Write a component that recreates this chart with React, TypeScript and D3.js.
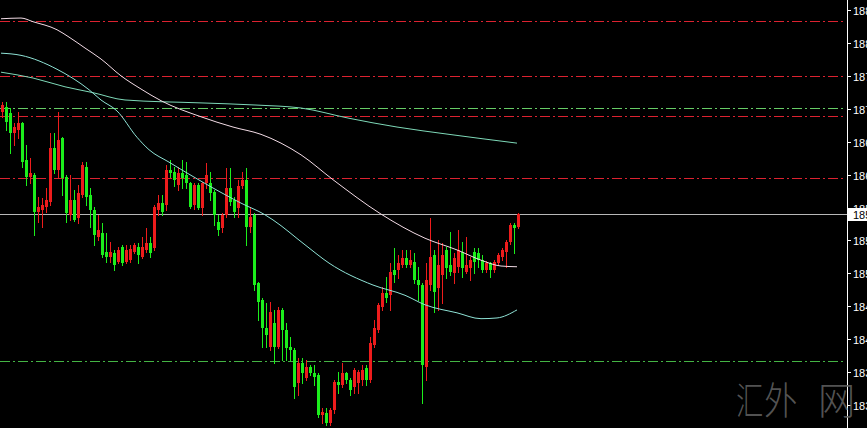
import React from "react";
import * as d3 from "d3";

const W = 867;
const H = 428;

// OHLC candles (oldest -> newest)
const opens = [187.26,187.32,187.24,186.97,187.01,187.11,186.60,186.37,186.39,185.89,185.92,185.96,186.03,186.76,186.46,186.90,186.37,185.85,186.05,185.81,186.12,186.50,186.12,185.92,185.55,185.60,185.34,185.27,185.33,185.21,185.41,185.21,185.23,185.34,185.41,185.27,185.37,185.47,185.40,185.92,186.01,185.98,186.46,186.44,186.26,186.42,186.39,186.29,185.98,186.26,185.94,186.29,186.29,186.16,185.75,185.67,185.85,186.22,186.05,185.94,186.24,186.33,185.68,185.85,184.92,184.69,184.30,184.04,184.37,184.04,184.55,184.28,184.04,184.00,183.55,183.83,183.62,183.77,183.69,183.66,183.11,183.14,183.00,183.18,183.56,183.52,183.69,183.59,183.50,183.55,183.59,183.76,183.59,184.07,184.28,184.59,184.78,184.75,185.10,185.10,185.16,185.26,185.16,185.21,184.96,184.89,183.77,184.89,185.30,184.85,185.03,185.37,185.16,185.05,185.14,185.34,185.07,185.12,185.34,185.33,185.23,185.10,185.19,185.10,185.19,185.27,185.34,185.48,185.71,185.68];
const highs = [187.39,187.39,187.31,187.11,187.26,187.12,186.81,186.63,186.42,186.09,186.08,186.22,186.97,186.97,187.26,186.92,186.39,186.39,186.19,186.26,186.57,186.57,186.22,185.96,185.85,185.74,185.60,185.48,185.37,185.41,185.44,185.44,185.44,185.47,185.47,185.55,185.67,185.55,185.98,186.12,186.12,186.53,186.60,186.50,186.50,186.60,186.57,186.30,186.29,186.29,186.30,186.56,186.44,186.19,185.85,185.88,186.49,186.49,186.09,186.33,186.44,186.49,185.96,185.88,184.93,184.71,184.64,184.66,184.55,184.59,184.58,184.37,184.18,184.03,183.89,183.89,183.87,183.80,183.80,183.69,183.21,183.21,183.21,183.59,183.70,183.83,183.70,183.62,183.76,183.73,183.80,183.80,184.18,184.41,184.64,184.86,185.00,185.19,185.40,185.30,185.37,185.37,185.37,185.33,185.14,184.92,185.19,185.81,185.37,185.51,185.47,185.41,185.62,185.33,185.64,185.48,185.55,185.27,185.40,185.40,185.30,185.22,185.21,185.23,185.33,185.40,185.51,185.74,185.74,185.88];
const lows = [187.19,187.01,186.70,186.81,186.90,186.50,186.26,186.29,185.57,185.75,185.68,185.89,185.98,186.42,186.37,186.12,185.75,185.78,185.76,185.74,186.10,185.98,185.68,185.44,185.51,185.27,185.21,185.21,185.10,185.19,185.16,185.19,185.21,185.33,185.19,185.26,185.34,185.27,185.37,185.85,185.85,185.92,186.37,186.24,186.19,186.22,186.22,185.94,185.93,185.93,185.85,186.22,186.05,185.71,185.57,185.62,185.82,185.98,185.82,185.82,186.22,185.44,185.62,184.82,184.41,184.04,184.04,184.00,183.83,184.03,183.87,183.87,183.87,183.35,183.39,183.55,183.59,183.66,183.52,183.09,183.00,182.98,182.98,183.14,183.41,183.50,183.55,183.39,183.41,183.41,183.52,183.52,183.56,184.04,184.25,184.55,184.66,184.55,184.93,184.99,185.14,185.14,185.14,184.92,184.69,183.28,183.59,184.82,184.52,184.55,184.64,184.99,185.03,184.92,185.07,185.00,185.05,184.96,185.05,185.14,185.07,185.07,185.00,185.07,185.16,185.23,185.14,185.45,185.33,185.67];
const closes = [187.35,187.12,186.97,187.05,187.11,186.57,186.37,186.42,185.89,185.96,185.98,186.05,186.76,186.46,186.87,186.35,185.88,186.05,185.78,186.15,186.53,186.09,185.92,185.57,185.64,185.30,185.27,185.34,185.16,185.37,185.19,185.37,185.38,185.44,185.30,185.41,185.47,185.33,185.96,186.01,185.89,186.46,186.42,186.33,186.42,186.35,186.29,185.96,186.26,185.94,186.29,186.39,186.15,185.85,185.64,185.85,186.22,186.03,185.89,186.24,186.33,185.68,185.82,184.89,184.66,184.30,184.21,184.52,184.04,184.55,184.28,184.03,184.00,183.50,183.83,183.69,183.77,183.69,183.63,183.11,183.15,183.00,183.18,183.56,183.52,183.69,183.59,183.46,183.73,183.70,183.73,183.59,184.10,184.30,184.62,184.78,184.71,185.07,185.03,185.19,185.26,185.16,185.23,184.96,184.89,183.80,184.96,185.27,184.79,185.16,185.30,185.12,185.07,185.26,185.37,185.12,185.16,185.23,185.21,185.23,185.10,185.19,185.10,185.21,185.30,185.37,185.48,185.71,185.67,185.86];

// moving averages, read at candle indices
const maWhiteIdx = [0,5,8,14,17,21,25,30,35,40,50,58,65,70,75,83,95,106,114,120,125,129];
const maWhiteVal = [188.53,188.54,188.49,188.38,188.28,188.13,187.98,187.75,187.57,187.41,187.19,187.05,186.95,186.83,186.67,186.33,185.86,185.53,185.37,185.23,185.15,185.14];
const maMidIdx = [0,5,14,22,25,29,34,37,42,50,60,66,68,76,82,93,101,106,114,120,124,129];
const maMidVal = [188.06,188.03,187.84,187.56,187.42,187.27,186.91,186.74,186.57,186.31,186.01,185.85,185.78,185.44,185.19,184.89,184.75,184.62,184.51,184.43,184.44,184.55];
const maSlowIdx = [0,8,16,23,31,50,64,75,87,99,112,129];
const maSlowVal = [187.80,187.72,187.60,187.52,187.42,187.38,187.35,187.31,187.17,187.05,186.95,186.83];

// horizontal levels
const redLevels = [188.50, 187.75, 187.20, 186.35];
const greenLevels = [187.31, 183.85];

// price scale ticks
const priceTicks = [183.25,183.70,184.15,184.60,185.05,185.50,185.95,186.40,186.85,187.30,187.75,188.20,188.65];

const watermark = ["汇", "外", "网"];

const UP = "#ee1c1c";
const DOWN = "#1cee1c";

export default function App() {
  const axisX = 847;
  const x = d3.scaleLinear().domain([0, 129]).range([2, 518]);
  const y = d3.scaleLinear().domain([183.25, 188.65]).range([405, 10]);

  const mkLine = (idx: number[], val: number[]) =>
    d3.line<number>()
      .x((_, k) => x(idx[k]) - 1)
      .y((v) => y(v))
      .curve(d3.curveMonotoneX)(val) || "";

  const last = closes[closes.length - 1];
  const yLast = Math.round(y(last)) + 0.5;
  const wmX = [736, 764, 818];
  const wmSx = [0.72, 0.88, 0.98];

  return (
    <svg
      width={W}
      height={H}
      style={{ position: "absolute", left: 0, top: 0, background: "#000", display: "block" }}
      fontFamily="'Liberation Sans', Arial, sans-serif"
    >
      <rect x={0} y={0} width={W} height={H} fill="#000" />

      {redLevels.map((v, k) => (
        <line key={"r" + k} x1={0} x2={845} y1={Math.round(y(v)) + 0.5} y2={Math.round(y(v)) + 0.5}
          stroke="#dc2230" strokeWidth={1} strokeDasharray="10,3,2,3" />
      ))}
      {greenLevels.map((v, k) => (
        <line key={"g" + k} x1={0} x2={845} y1={Math.round(y(v)) + 0.5} y2={Math.round(y(v)) + 0.5}
          stroke={k === 0 ? "#66cc66" : "#44b444"} strokeWidth={1} strokeDasharray="10,3,2,3" />
      ))}

      {/* current price line */}
      <line x1={0} x2={axisX} y1={yLast} y2={yLast} stroke="#b8b8b8" strokeWidth={1} />

      {/* candles */}
      {opens.map((o, i) => {
        const c = closes[i];
        const col = c >= o ? UP : DOWN;
        const cx = Math.round(x(i));
        const yt = Math.round(y(Math.max(o, c)));
        const yb = Math.round(y(Math.min(o, c)));
        return (
          <g key={i}>
            <line x1={cx + 0.5} x2={cx + 0.5} y1={Math.round(y(highs[i]))} y2={Math.round(y(lows[i])) + 1} stroke={col} strokeWidth={1} />
            <rect x={cx - 1} y={yt} width={3} height={Math.max(1, yb - yt)} fill={col} />
          </g>
        );
      })}

      {/* moving averages */}
      <path d={mkLine(maSlowIdx, maSlowVal)} fill="none" stroke="#7ed9b8" strokeWidth={1} />
      <path d={mkLine(maMidIdx, maMidVal)} fill="none" stroke="#8fe3d6" strokeWidth={1} />
      <path d={mkLine(maWhiteIdx, maWhiteVal)} fill="none" stroke="#f3dce6" strokeWidth={1} />

      {/* price axis */}
      <line x1={axisX + 0.5} x2={axisX + 0.5} y1={0} y2={H} stroke="#ffffff" strokeWidth={1} />
      {priceTicks.map((t, k) => {
        const ty = Math.round(y(t)) + 0.5;
        return (
          <g key={"t" + k}>
            <line x1={axisX + 1} x2={axisX + 4} y1={ty} y2={ty} stroke="#ffffff" strokeWidth={1} />
            <text x={axisX + 6} y={ty + 4} fill="#ffffff" fontSize={11}>{t.toFixed(3)}</text>
          </g>
        );
      })}

      {/* current price label */}
      <rect x={axisX + 1} y={yLast - 6.5} width={W - axisX} height={13} fill="#ffffff" />
      <text x={axisX + 6} y={yLast + 4} fill="#000000" fontSize={11}>{last.toFixed(3)}</text>

      {/* watermark */}
      {watermark.map((ch, k) => (
        <text key={"w" + k} transform={`translate(${wmX[k]},414) scale(${wmSx[k]},1)`}
          fill="#5e5e5e" fillOpacity={0.9} fontSize={38}
          fontFamily="'Noto Sans CJK SC', sans-serif" fontWeight={300}>{ch}</text>
      ))}
    </svg>
  );
}
